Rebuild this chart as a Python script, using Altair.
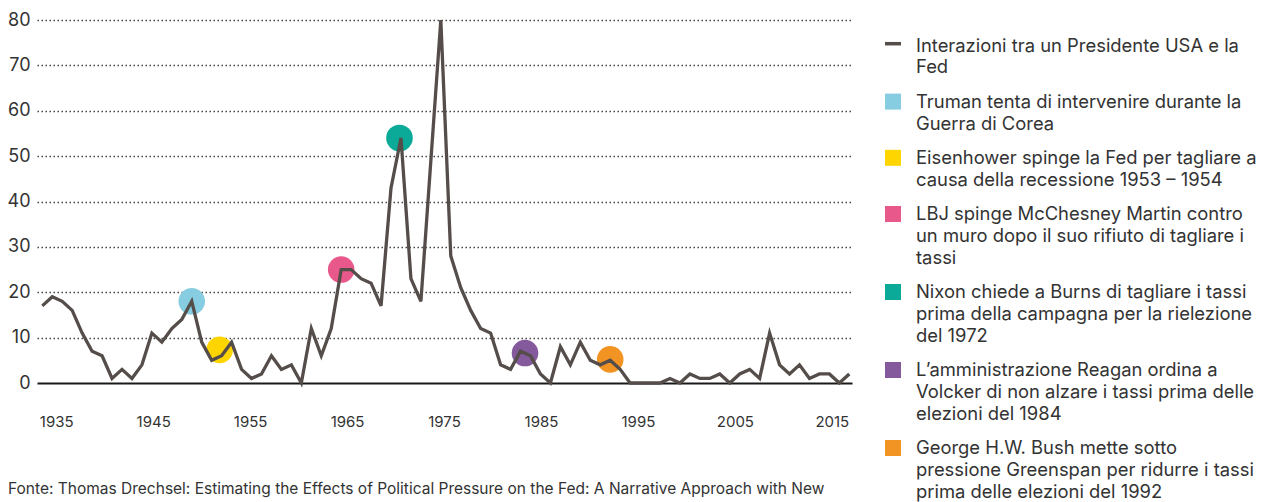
import altair as alt
import pandas as pd

# ---------------- data ----------------
years = list(range(1935, 2017))
values = [17, 19, 18, 16, 11, 7, 6, 1, 3, 1,
          4, 11, 9, 12, 14, 18, 9, 5, 6, 9,
          3, 1, 2, 6, 3, 4, 0, 12, 6, 12,
          25, 25, 23, 22, 17, 43, 54, 23, 18, 49,
          80, 28, 21, 16, 12, 11, 4, 3, 7, 6,
          2, 0, 8, 4, 9, 5, 4, 5, 3, 0,
          0, 0, 0, 1, 0, 2, 1, 1, 2, 0,
          2, 3, 1, 11, 4, 2, 4, 1, 2, 2,
          0, 2]

series_label = "Interazioni tra un Presidente USA e la\nFed"
events = [
    "Truman tenta di intervenire durante la\nGuerra di Corea",
    "Eisenhower spinge la Fed per tagliare a\ncausa della recessione 1953 – 1954",
    "LBJ spinge McChesney Martin contro\nun muro dopo il suo rifiuto di tagliare i\ntassi",
    "Nixon chiede a Burns di tagliare i tassi\nprima della campagna per la rielezione\ndel 1972",
    "L’amministrazione Reagan ordina a\nVolcker di non alzare i tassi prima delle\nelezioni del 1984",
    "George H.W. Bush mette sotto\npressione Greenspan per ridurre i tassi\nprima delle elezioni del 1992",
]
event_years = [1950, 1952.8, 1965, 1970.85, 1983.45, 1992]
event_values = [18, 7.3, 25, 54, 6.6, 5.2]
event_colors = ["#87CDE1", "#FFD500", "#E9588A", "#0BAA98", "#845A9C", "#F29424"]

decades = [1935, 1945, 1955, 1965, 1975, 1985, 1995, 2005, 2015]
y_ticks = [0, 10, 20, 30, 40, 50, 60, 70, 80]

source = ("Fonte: Thomas Drechsel: Estimating the Effects of Political Pressure on the Fed: "
          "A Narrative Approach with New")

# ---------------- style ----------------
FONT = "Inter"
TXT = "#333333"
LINE = "#544D49"
W, H = 815, 363

line_df = pd.DataFrame({"year": years, "value": values})
ev_df = pd.DataFrame({"event": events, "year": event_years, "value": event_values})
tick_df = pd.DataFrame({"tick": decades})

xs = alt.Scale(domain=[1934.468, 2016.27], nice=False, zero=False)
ys = alt.Scale(domain=[0, 80], nice=False)
cs = alt.Scale(domain=events, range=event_colors)

is_zero = "datum.value === 0"
y_axis = alt.Axis(
    values=y_ticks, title=None, ticks=False, domain=False,
    labelPadding=7, labelFont=FONT, labelFontSize=18, labelColor=TXT,
    grid=True,
    gridColor=alt.condition(is_zero, alt.value("#1a1a1a"), alt.value("#444444")),
    gridDash=alt.condition(is_zero, alt.value([]), alt.value([1.5, 2.5])),
    gridWidth=alt.condition(is_zero, alt.value(2), alt.value(1.3)),
)

circles = alt.Chart(ev_df).mark_circle(size=707, opacity=1).encode(
    x=alt.X("year:Q", scale=xs, axis=None),
    y=alt.Y("value:Q", scale=ys, axis=None),
    color=alt.Color("event:N", scale=cs, legend=None),
)

line = alt.Chart(line_df).mark_line(color=LINE, strokeWidth=3.3).encode(
    x=alt.X("year:Q", scale=xs, axis=None),
    y=alt.Y("value:Q", scale=ys, axis=y_axis),
)

xlabels = alt.Chart(tick_df).mark_text(
    font=FONT, fontSize=15, color=TXT, baseline="middle", align="center"
).encode(
    x=alt.X("tick:Q", scale=alt.Scale(domain=[1932.968, 2017.03], nice=False, zero=False), axis=None),
    y=alt.value(402.3),
    text=alt.Text("tick:Q", format="d"),
)

# ---------------- manual legend (layout) ----------------
labels = [series_label] + events
first_base = 31.7
lh = 21.8
gap = 12.6
ypos = []
cur = first_base
for lab in labels:
    ypos.append(cur)
    cur += lab.count("\n") * lh + lh + gap

leg_df = pd.DataFrame({"label": labels, "ypos": ypos})
ev_leg_df = pd.DataFrame({"event": events, "ypos": [p - 6.3 for p in ypos[1:]]})
ly = alt.Scale(domain=[0, H], reverse=True, nice=False, zero=False)

leg_text = alt.Chart(leg_df).mark_text(
    font=FONT, fontSize=18.4, color=TXT, align="left", baseline="alphabetic",
    lineBreak="\n", lineHeight=lh,
).encode(
    x=alt.value(879),
    y=alt.Y("ypos:Q", scale=ly, axis=None),
    text="label:N",
)

leg_sq = alt.Chart(ev_leg_df).mark_square(size=256, opacity=1).encode(
    x=alt.value(856),
    y=alt.Y("ypos:Q", scale=ly, axis=None),
    color=alt.Color("event:N", scale=cs, legend=None),
)

leg_line = alt.Chart(pd.DataFrame({"k": [0]})).mark_rule(color=LINE, strokeWidth=3.5).encode(
    x=alt.value(848), x2=alt.value(864), y=alt.value(first_base - 8),
)

footer = alt.Chart(pd.DataFrame({"t": [source]})).mark_text(
    font=FONT, fontSize=15.5, color=TXT, align="left", baseline="alphabetic"
).encode(
    x=alt.value(-29), y=alt.value(474), text="t:N",
)

chart = alt.layer(
    circles, line, xlabels, leg_sq, leg_line, leg_text, footer
).resolve_scale(
    x="independent", y="independent", color="independent"
).properties(
    width=W, height=H,
    padding={"left": 29, "top": 12, "right": 411, "bottom": 119},
    autosize=alt.AutoSizeParams(type="none"),
).configure_view(stroke=None)

chart.save("out.html", embed_options={"renderer": "svg", "actions": False})
